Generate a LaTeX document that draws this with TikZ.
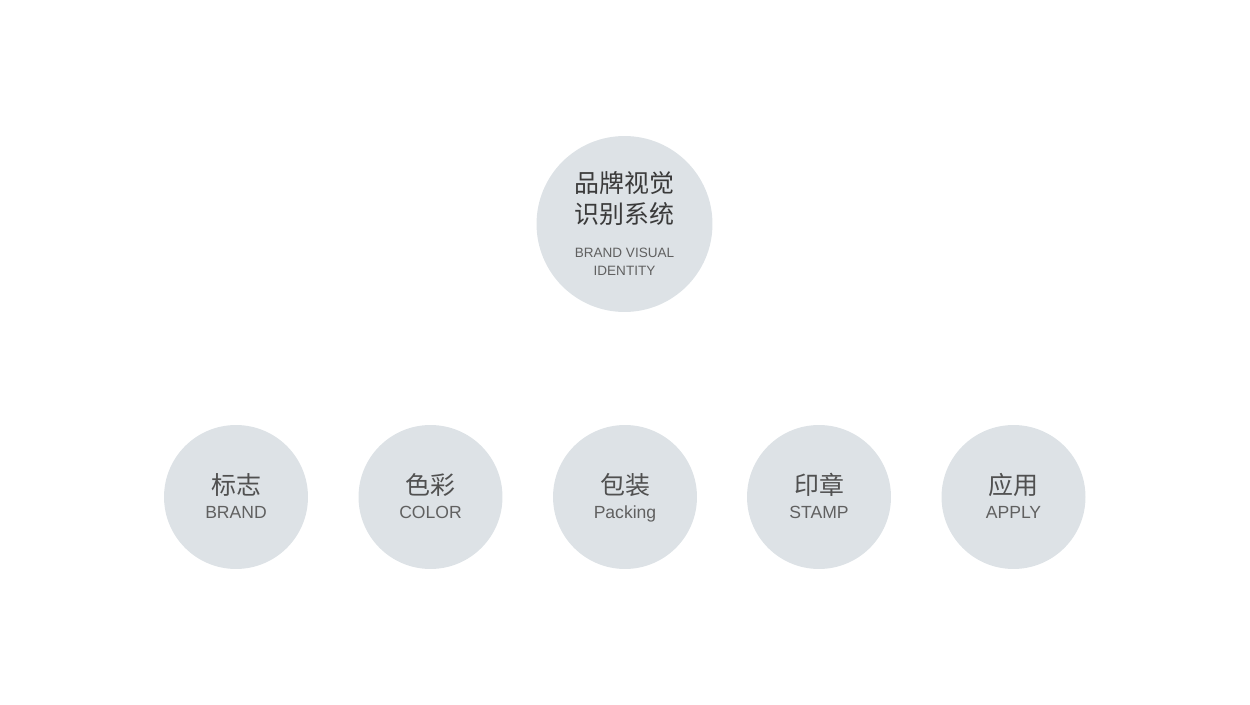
\documentclass[tikz,border=0pt]{standalone}
\usepackage{fontspec}
\setmainfont{Liberation Sans}
\newfontfamily\cjk{Noto Sans CJK SC}
\definecolor{discgray}{HTML}{DDE2E6}
\definecolor{zhgray}{HTML}{505050}
\definecolor{zhdark}{HTML}{3A3A3A}
\definecolor{engray}{HTML}{606060}

\tikzset{
  disc/.style={circle, fill=discgray, inner sep=0pt},
  zhtext/.style={text=zhgray, font=\cjk\fontsize{14.2}{16}\selectfont, inner sep=0pt},
  entext/.style={text=engray, font=\fontsize{10}{12}\selectfont, inner sep=0pt, anchor=base},
}

\begin{document}
\begin{tikzpicture}[x=0.02cm,y=-0.02cm]
            \useasboundingbox (0,0) rectangle (1250,705);
            % top circle
            \node[disc, minimum size=3.52cm] (top) at (624.5,224) {};
            \node[zhtext, text=zhdark] (topzhA) at (624.5,183) {品牌视觉};
            \node[zhtext, text=zhdark] (topzhB) at (624.5,214) {识别系统};
            \node[entext, font=\fontsize{7.7}{9}\selectfont] (topenA) at (624.5,257.5) {BRAND VISUAL};
            \node[entext, font=\fontsize{7.7}{9}\selectfont] (topenB) at (624.5,275.5) {IDENTITY};
            % bottom row
            \node[disc, minimum size=2.88cm] (brand) at (236,497) {};
            \node[disc, minimum size=2.88cm] (color) at (430.5,497) {};
            \node[disc, minimum size=2.88cm] (pack) at (625,497) {};
            \node[disc, minimum size=2.88cm] (stamp) at (819,497) {};
            \node[disc, minimum size=2.88cm] (apply) at (1013.5,497) {};
            \node[zhtext] (brandZh) at (236,485) {标志};
            \node[entext] (brandEn) at (236,518) {BRAND};
            \node[zhtext] (colorZh) at (430.5,485) {色彩};
            \node[entext] (colorEn) at (430.5,518) {COLOR};
            \node[zhtext] (packZh) at (625,485) {包装};
            \node[entext] (packEn) at (625,518) {Packing};
            \node[zhtext] (stampZh) at (819,485) {印章};
            \node[entext] (stampEn) at (819,518) {STAMP};
            \node[zhtext] (applyZh) at (1013.5,485) {应用};
            \node[entext] (applyEn) at (1013.5,518) {APPLY};
        \end{tikzpicture}
\end{document}
